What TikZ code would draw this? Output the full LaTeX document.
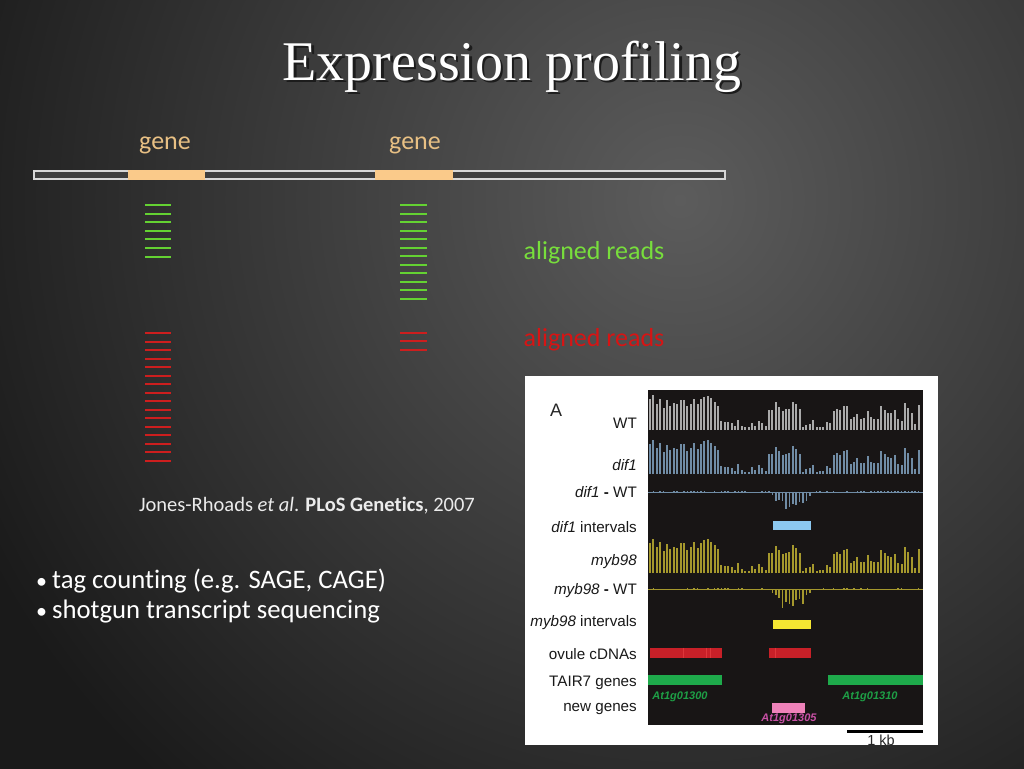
\documentclass[tikz,border=0pt]{standalone}
\usepackage{fontspec}
\newfontfamily\bodyfont[Ligatures=NoCommon]{Carlito}
\newfontfamily\figfont{Liberation Sans}
\newfontfamily\titlefont{Liberation Serif}
\definecolor{bgin}{RGB}{92,92,92}
\definecolor{bgout}{RGB}{26,26,26}
\definecolor{genetan}{RGB}{232,192,132}
\definecolor{geneorange}{RGB}{250,202,138}
\definecolor{barfill}{RGB}{62,62,62}
\definecolor{barline}{RGB}{215,215,215}
\definecolor{readgreen}{RGB}{100,210,50}
\definecolor{labelgreen}{RGB}{120,222,60}
\definecolor{readred}{RGB}{205,30,30}
\definecolor{labelred}{RGB}{215,20,20}
\definecolor{wtgray}{RGB}{170,170,170}
\definecolor{difblue}{RGB}{112,140,165}
\definecolor{mybolive}{RGB}{165,152,45}
\definecolor{intblue}{RGB}{140,200,240}
\definecolor{intyellow}{RGB}{245,230,50}
\definecolor{cdnared}{RGB}{200,32,40}
\definecolor{cdnaline}{RGB}{235,70,70}
\definecolor{tairgreen}{RGB}{30,170,75}
\definecolor{tairtext}{RGB}{30,160,70}
\definecolor{newpink}{RGB}{238,130,185}
\definecolor{pinktext}{RGB}{200,80,165}
\definecolor{panel}{RGB}{24,21,21}
\definecolor{titleshade}{RGB}{28,28,28}
\tikzset{
  bodytext/.style={font=\bodyfont\fontsize{26}{30}\selectfont, inner sep=0pt},
  citetext/.style={font=\bodyfont\fontsize{20.5}{24}\selectfont, inner sep=0pt, text=white!92!black},
  figlabel/.style={font=\figfont\fontsize{15.2}{17}\selectfont, text=black!90, anchor=east, inner sep=0pt},
  genename/.style={font=\figfont\bfseries\itshape\fontsize{11}{13}\selectfont, inner sep=0pt},
  readline/.style={line width=2pt},
  track/.style={line width=1.9pt},
}
\newcommand\bartrack[4]{%
  \pgfmathsetseed{#4}%
  \foreach \i in {0,...,79}{%
    \pgfmathsetmacro\xx{650+3.4*\i}%
    \pgfmathsetmacro\lo{ifthenelse(\xx<719,0.6,ifthenelse(\xx<768,0.04,ifthenelse(\xx<800,0.5,ifthenelse(\xx<833,0.05,0.15))))}%
    \pgfmathsetmacro\hi{ifthenelse(\xx<719,1.0,ifthenelse(\xx<768,0.3,ifthenelse(\xx<800,0.97,ifthenelse(\xx<833,0.3,0.8))))}%
    \pgfmathsetmacro\hh{#2*(\lo+(\hi-\lo)*rnd)}%
    \draw[track,#3] (\xx,#1) -- ++(0,-\hh);
  }}
\newcommand\difftrack[4]{%
  \pgfmathsetseed{#4}%
  \draw[#3,line width=0.7pt] (648,#1) -- (923,#1);
  \foreach \i in {0,...,79}{%
    \pgfmathsetmacro\xx{650+3.4*\i}%
    \pgfmathsetmacro\ss{max(0,sin(max(0,min(180,(\xx-768)*3.913))))}%
    \pgfmathsetmacro\dd{ifthenelse(\xx>770,ifthenelse(\xx<812,#2*(0.45+0.55*rnd)*\ss,-1.5*rnd),-1.5*rnd)}%
    \draw[track,#3,line width=1.5pt] (\xx,#1) -- ++(0,\dd);
  }}
\begin{document}
\begin{tikzpicture}[x=1pt,y=-1pt]
\useasboundingbox (0,0) rectangle (1024,768);
% background
\fill[bgout] (-10,-10) rectangle (1034,778);
\begin{scope}
  \clip (680,200) circle (780);
  \shade[inner color=bgin, outer color=bgout] (680,200) circle (780);
\end{scope}
% title with its shadow in one node
\node[font=\titlefont\fontsize{56}{64}\selectfont, text=white, anchor=base, inner sep=0pt] (title) at (512,80)
  {\makebox[0pt][l]{\raisebox{-2.5pt}{\hspace{2.5pt}\textcolor{titleshade}{Expression profiling}}}Expression profiling};
% genome bar
\node[bodytext, text=genetan, anchor=base] (gene1) at (165,149) {gene};
\node[bodytext, text=genetan, anchor=base] (gene2) at (415,149) {gene};
\draw[draw=barline, fill=barfill, line width=1.2pt] (34,171) rectangle (725,179);
\fill[geneorange] (128,170.4) rectangle (205,179.6);
\fill[geneorange] (375,170.4) rectangle (453,179.6);
% green reads
\foreach \k in {0,...,6}
  \draw[readline, readgreen] (145,{round(205+8.6*\k)}) -- (171,{round(205+8.6*\k)});
\foreach \k in {0,...,11}
  \draw[readline, readgreen] (400,{round(205+8.5*\k)}) -- (427,{round(205+8.5*\k)});
\node[bodytext, text=labelgreen, anchor=base] (greenlab) at (594,259) {aligned reads};
% red reads
\foreach \k in {0,...,15}
  \draw[readline, readred] (145,{round(333+8.53*\k)}) -- (171,{round(333+8.53*\k)});
\foreach \k in {0,...,2}
  \draw[readline, readred] (400,{round(333+8.3*\k)}) -- (427,{round(333+8.3*\k)});
\node[bodytext, text=labelred, anchor=base] (redlab) at (594,346) {aligned reads};
% citation
\node[citetext, anchor=base] (cite) at (307,511) {Jones-Rhoads \textit{et al}. \textbf{PLoS Genetics}, 2007};
% bullets
\node[bodytext, text=white, anchor=base west] (bul1) at (36,588) {\fontsize{22}{26}\selectfont\textbullet\ \fontsize{26.7}{30}\selectfont tag counting (e.g. SAGE, CAGE)};
\node[bodytext, text=white, anchor=base west] (bul2) at (36,618) {\fontsize{22}{26}\selectfont\textbullet\ \fontsize{26.7}{30}\selectfont shotgun transcript sequencing};
% figure panel
\fill[white] (525,376) rectangle (938,745);
\fill[panel] (648,390) rectangle (923,725);
\node[font=\figfont\fontsize{18}{20}\selectfont, text=black!85, inner sep=0pt] (panelA) at (556,410) {A};
\node[figlabel] (lWT) at (637,423) {WT};
\node[figlabel] (ldif) at (637,465) {\textit{dif1}};
\node[figlabel] (ldifwt) at (637,492) {\textit{dif1} \textbf{-} WT};
\node[figlabel] (ldifint) at (637,527) {\textit{dif1} intervals};
\node[figlabel] (lmyb) at (637,562) {\textit{myb98}};
\node[figlabel] (lmybwt) at (637,591) {\textit{myb98} \textbf{-} WT};
\node[figlabel] (lmybint) at (637,623) {\textit{myb98} intervals};
\node[figlabel] (lcdna) at (637,654) {ovule cDNAs};
\node[figlabel] (ltair) at (637,683) {TAIR7 genes};
\node[figlabel] (lnew) at (637,709) {new genes};
% tracks
\bartrack{429.5}{35}{wtgray}{11}
\bartrack{474}{35}{difblue}{11}
\difftrack{492}{20}{difblue}{5}
\fill[intblue] (773,520.5) rectangle (811,530);
\bartrack{573}{35}{mybolive}{11}
\difftrack{589.5}{23}{mybolive}{7}
\fill[intyellow] (773,620) rectangle (811,629);
% cDNAs
\fill[cdnared] (650,647.5) rectangle (722,657.5);
\fill[cdnared] (769,647.5) rectangle (811,657.5);
\draw[cdnaline, line width=0.5pt, opacity=0.6] (683,647.5) -- (683,657.5) (706,647.5) -- (706,657.5) (710,647.5) -- (710,657.5) (775,647.5) -- (775,657.5);
% TAIR7 genes
\fill[tairgreen] (648,674.5) rectangle (722,685);
\fill[tairgreen] (828,674.5) rectangle (923,685);
\node[genename, text=tairtext] (g300) at (680,697) {At1g01300};
\node[genename, text=tairtext] (g310) at (870,697) {At1g01310};
% new genes
\fill[newpink] (772,702.5) rectangle (804.5,712.5);
\node[genename, text=pinktext] (g305) at (789,718.5) {At1g01305};
% scale bar
\coordinate (sbL) at (847,731.5);
\coordinate (sbR) at (923,731.5);
\draw[black, line width=2.2pt] (sbL) -- (sbR);
\node[font=\figfont\fontsize{14.5}{16}\selectfont, text=black!85, inner sep=0pt] (kb) at (881,740.5) {1 kb};
\end{tikzpicture}
\end{document}
